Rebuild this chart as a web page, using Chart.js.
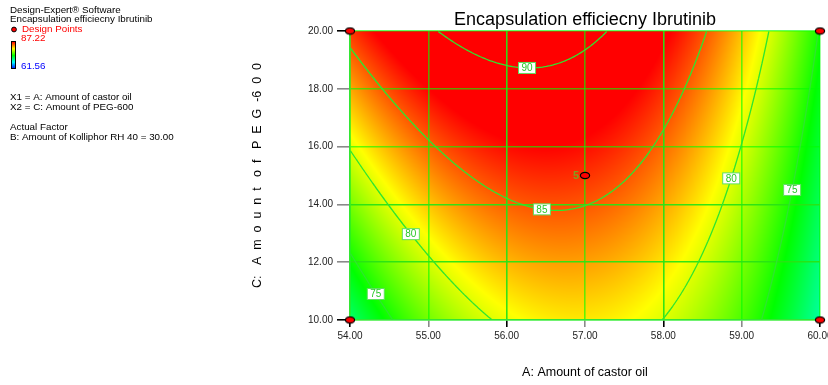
<!DOCTYPE html>
<html>
<head>
<meta charset="utf-8">
<script src="https://cdn.jsdelivr.net/npm/chart.js@4.4.0/dist/chart.umd.min.js"></script>
<style>
  html, body { margin: 0; padding: 0; background: #fff; }
</style>
</head>
<body>
<canvas id="contour" width="828" height="385"></canvas>
<script>
// response at the tick crossings
const castorOil = [54, 55, 56, 57, 58, 59, 60];
const peg600 = [10, 12, 14, 16, 18, 20];
// one row per peg600 value, one column per castorOil value
const efficiency = [
  [71.72, 77.21, 80.42, 81.33, 79.96, 76.29, 70.34],
  [74.54, 79.71, 82.60, 83.19, 81.50, 77.51, 71.24],
  [77.36, 82.21, 84.77, 85.04, 83.03, 78.73, 72.14],
  [80.17, 84.70, 86.94, 86.90, 84.56, 79.94, 73.03],
  [82.99, 87.20, 89.12, 88.75, 86.10, 81.16, 73.93],
  [85.80, 89.69, 91.30, 90.61, 87.64, 82.37, 74.82]
];
const contourLevels = [75, 80, 85, 90];
const colorLow = 61.56;
const colorHigh = 87.22;

const designA = [54, 54, 60, 60, 57];
const designC = [10, 20, 20, 10, 15];
const designReps = [1, 1, 1, 1, 5];

// where each contour label sits (one coordinate fixed, the other searched)
const contourLabels = [
  { level: 90, fixA: 56.26, range: [17, 20] },
  { level: 85, fixA: 56.45, range: [12, 16] },
  { level: 80, fixC: 12.97, range: [54, 56.5] },
  { level: 80, fixC: 14.9, range: [57.5, 60] },
  { level: 75, fixC: 10.9, range: [54, 56] },
  { level: 75, fixC: 14.5, range: [58, 60] }
];

const FONT = '"Liberation Sans", Arial, sans-serif';
Chart.defaults.font.family = FONT;

function gridVal(i, j) {
  const nx = castorOil.length, ny = peg600.length;
  if (i < 0) return 3 * gridVal(0, j) - 3 * gridVal(1, j) + gridVal(2, j);
  if (i >= nx) return 3 * gridVal(nx - 1, j) - 3 * gridVal(nx - 2, j) + gridVal(nx - 3, j);
  if (j < 0) return 3 * gridVal(i, 0) - 3 * gridVal(i, 1) + gridVal(i, 2);
  if (j >= ny) return 3 * gridVal(i, ny - 1) - 3 * gridVal(i, ny - 2) + gridVal(i, ny - 3);
  return efficiency[j][i];
}

function cr(p0, p1, p2, p3, t) {
  return p1 + 0.5 * t * (p2 - p0 + t * (2 * p0 - 5 * p1 + 4 * p2 - p3 + t * (3 * (p1 - p2) + p3 - p0)));
}

function response(a, c) {
  const nx = castorOil.length, ny = peg600.length;
  const gx = (a - castorOil[0]) / (castorOil[nx - 1] - castorOil[0]) * (nx - 1);
  const gy = (c - peg600[0]) / (peg600[ny - 1] - peg600[0]) * (ny - 1);
  const i = Math.min(Math.max(Math.floor(gx), 0), nx - 2);
  const j = Math.min(Math.max(Math.floor(gy), 0), ny - 2);
  const tx = gx - i, ty = gy - j;
  const rows = [];
  for (let dj = -1; dj <= 2; dj++) {
    rows.push(cr(gridVal(i - 1, j + dj), gridVal(i, j + dj), gridVal(i + 1, j + dj), gridVal(i + 2, j + dj), tx));
  }
  return cr(rows[0], rows[1], rows[2], rows[3], ty);
}

const stops = [[0, 0, 255], [0, 255, 255], [0, 255, 0], [255, 255, 0], [255, 0, 0]];
function colorFor(v) {
  let t = (v - colorLow) / (colorHigh - colorLow);
  t = Math.max(0, Math.min(1, t));
  const s = t * 4;
  const k = Math.min(Math.floor(s), 3);
  const f = s - k;
  const a = stops[k], b = stops[k + 1];
  return [a[0] + (b[0] - a[0]) * f, a[1] + (b[1] - a[1]) * f, a[2] + (b[2] - a[2]) * f];
}

let field = null;

const surfacePlugin = {
  id: 'surface',
  beforeDraw(chart) {
    const ctx = chart.ctx;
    const { left, top, right, bottom } = chart.chartArea;
    const xs = chart.scales.x, ys = chart.scales.y;
    const w = Math.round(right - left), h = Math.round(bottom - top);
    const off = document.createElement('canvas');
    off.width = w; off.height = h;
    const octx = off.getContext('2d');
    const img = octx.createImageData(w, h);
    field = { w, h, left, top, v: new Float32Array(w * h) };
    for (let py = 0; py < h; py++) {
      const c = ys.getValueForPixel(top + py + 0.5);
      for (let px = 0; px < w; px++) {
        const a = xs.getValueForPixel(left + px + 0.5);
        const v = response(a, c);
        field.v[py * w + px] = v;
        const col = colorFor(v);
        const k = (py * w + px) * 4;
        img.data[k] = col[0]; img.data[k + 1] = col[1]; img.data[k + 2] = col[2]; img.data[k + 3] = 255;
      }
    }
    octx.putImageData(img, 0, 0);
    ctx.drawImage(off, left, top);
  },
  beforeDatasetsDraw(chart) {
    const ctx = chart.ctx;
    const xs = chart.scales.x, ys = chart.scales.y;
    const { w, h, left, top, v } = field;
    const s = 2;
    const F = (x, y) => v[Math.min(y, h - 1) * w + Math.min(x, w - 1)];
    ctx.save();
    ctx.beginPath();
    ctx.rect(chart.chartArea.left, chart.chartArea.top, w, h);
    ctx.clip();
    ctx.strokeStyle = '#2ee62e';
    ctx.lineWidth = 1.3;
    contourLevels.forEach(level => {
      ctx.beginPath();
      for (let y = 0; y < h - 1; y += s) {
        for (let x = 0; x < w - 1; x += s) {
          const x2 = Math.min(x + s, w - 1), y2 = Math.min(y + s, h - 1);
          const c = [[x, y, F(x, y)], [x2, y, F(x2, y)], [x2, y2, F(x2, y2)], [x, y2, F(x, y2)]];
          const pts = [];
          for (let e = 0; e < 4; e++) {
            const p = c[e], q = c[(e + 1) % 4];
            if ((p[2] - level) * (q[2] - level) < 0) {
              const t = (level - p[2]) / (q[2] - p[2]);
              pts.push([p[0] + (q[0] - p[0]) * t, p[1] + (q[1] - p[1]) * t]);
            }
          }
          for (let k = 0; k + 1 < pts.length; k += 2) {
            ctx.moveTo(left + pts[k][0] + 0.5, top + pts[k][1] + 0.5);
            ctx.lineTo(left + pts[k + 1][0] + 0.5, top + pts[k + 1][1] + 0.5);
          }
        }
      }
      ctx.stroke();
    });
    ctx.restore();

    // contour labels
    ctx.save();
    ctx.font = '10px ' + FONT;
    ctx.textAlign = 'center';
    ctx.textBaseline = 'middle';
    contourLabels.forEach(lab => {
      let lo = lab.range[0], hi = lab.range[1];
      const f = u => (lab.fixA !== undefined ? response(lab.fixA, u) : response(u, lab.fixC)) - lab.level;
      const flo = f(lo);
      for (let it = 0; it < 40; it++) {
        const mid = (lo + hi) / 2;
        if (f(mid) * flo > 0) lo = mid; else hi = mid;
      }
      const u = (lo + hi) / 2;
      const a = lab.fixA !== undefined ? lab.fixA : u;
      const c = lab.fixA !== undefined ? u : lab.fixC;
      const px = xs.getPixelForValue(a), py = ys.getPixelForValue(c);
      ctx.fillStyle = '#ffffff';
      ctx.fillRect(px - 8.5, py - 5.5, 17, 11);
      ctx.strokeStyle = '#5fe05f';
      ctx.lineWidth = 1;
      ctx.strokeRect(px - 8.5, py - 5.5, 17, 11);
      ctx.fillStyle = '#28c828';
      ctx.fillText(String(lab.level), px, py + 0.5);
    });
    ctx.restore();
  },
  afterDatasetsDraw(chart) {
    const ctx = chart.ctx;
    const xs = chart.scales.x, ys = chart.scales.y;
    ctx.save();
    ctx.font = 'bold 11px ' + FONT;
    ctx.fillStyle = '#7fa020';
    ctx.textAlign = 'right';
    ctx.textBaseline = 'middle';
    designReps.forEach((n, i) => {
      if (n > 1) ctx.fillText(String(n), xs.getPixelForValue(designA[i]) - 6, ys.getPixelForValue(designC[i]));
    });
    ctx.restore();

    // side notes
    ctx.save();
    ctx.font = '9.8px ' + FONT;
    ctx.textAlign = 'left';
    ctx.textBaseline = 'middle';
    ctx.fillStyle = '#000';
    ctx.fillText('Design-Expert\u00AE Software', 10, 10);
    ctx.fillText('Encapsulation efficiecny Ibrutinib', 10, 19.5);
    ctx.fillStyle = '#ff0000';
    ctx.fillText('Design Points', 22, 29.5);
    ctx.beginPath();
    ctx.arc(14, 29.5, 2.4, 0, Math.PI * 2);
    ctx.fill();
    ctx.strokeStyle = '#000';
    ctx.lineWidth = 1;
    ctx.stroke();
    ctx.fillText(colorHigh.toFixed(2), 21, 38.5);
    ctx.fillStyle = '#0000ff';
    ctx.fillText(colorLow.toFixed(2), 21, 66.5);
    ctx.fillStyle = '#000';
    ctx.fillText('X1 = A: Amount of castor oil', 10, 97);
    ctx.fillText('X2 = C: Amount of PEG-600', 10, 107);
    ctx.fillText('Actual Factor', 10, 127);
    ctx.fillText('B: Amount of Kolliphor RH 40 = 30.00', 10, 137);
    const g = ctx.createLinearGradient(0, 42, 0, 69);
    for (let k = 0; k < stops.length; k++) {
      const st = stops[stops.length - 1 - k];
      g.addColorStop(k / 4, 'rgb(' + st.join(',') + ')');
    }
    ctx.fillStyle = g;
    ctx.fillRect(11.5, 41.5, 4, 27);
    ctx.strokeStyle = '#000';
    ctx.strokeRect(11.5, 41.5, 4, 27);
    ctx.restore();
  }
};

function pointImage() {
  const c = document.createElement('canvas');
  c.width = 12; c.height = 9;
  const g = c.getContext('2d');
  g.beginPath();
  g.ellipse(6, 4.5, 4.6, 3.1, 0, 0, Math.PI * 2);
  g.fillStyle = '#ff0000';
  g.fill();
  g.lineWidth = 1.2;
  g.strokeStyle = '#000';
  g.stroke();
  return c;
}

const olive = 'rgba(0,255,0,0.62)';
const bright = 'rgba(40,228,20,0.95)';

new Chart(document.getElementById('contour'), {
  type: 'scatter',
  data: {
    datasets: [{
      label: 'Design Points',
      data: designA.map((a, i) => ({ x: a, y: designC[i] })),
      pointStyle: pointImage(),
      clip: false
    }]
  },
  options: {
    responsive: false,
    animation: false,
    devicePixelRatio: 1,
    layout: { padding: { left: 246, right: 8, top: 0, bottom: 1 } },
    plugins: {
      legend: { display: false },
      tooltip: { enabled: false },
      title: {
        display: true,
        fullSize: false,
        text: 'Encapsulation efficiecny Ibrutinib',
        color: '#000',
        font: { size: 18, weight: 'normal' },
        padding: { top: 9, bottom: 0.4 }
      }
    },
    scales: {
      x: {
        type: 'linear',
        min: 54,
        max: 60,
        ticks: {
          stepSize: 1,
          color: '#222',
          font: { size: 10 },
          padding: 3,
          maxRotation: 0,
          callback: v => v.toFixed(2)
        },
        grid: {
          color: c => (c.tick && (c.tick.value === 56 || c.tick.value === 58)) ? bright : olive,
          lineWidth: 1.6,
          tickLength: 7,
          tickWidth: 1.6,
          tickColor: c => (c.tick && c.tick.value % 2 === 0) ? '#000' : '#8a8a8a'
        },
        border: { color: '#33e633', width: 1.6 },
        title: {
          display: true,
          text: 'A: Amount of castor oil',
          color: '#000',
          font: { size: 12.5 },
          padding: { top: 4, bottom: 4 }
        },
        afterFit: s => { s.height = 64; s.paddingLeft = 0; s.paddingRight = 0; }
      },
      y: {
        type: 'linear',
        min: 10,
        max: 20,
        ticks: {
          stepSize: 2,
          color: '#222',
          font: { size: 10 },
          padding: 4,
          callback: v => v.toFixed(2)
        },
        grid: {
          color: c => (c.tick && (c.tick.value === 12 || c.tick.value === 14)) ? bright : olive,
          lineWidth: 1.6,
          tickLength: 13,
          tickWidth: 1.6,
          tickColor: c => (c.tick && (c.tick.value === 10 || c.tick.value === 20)) ? '#000' : '#8a8a8a'
        },
        border: { color: '#33e633', width: 1.6 },
        title: {
          display: true,
          text: 'C:   A  m  o  u  n  t   o  f   P  E  G  -6  0  0',
          color: '#000',
          font: { size: 12.5 },
          padding: { top: 4, bottom: 4 }
        },
        afterFit: s => { s.width = 104; s.paddingTop = 0; s.paddingBottom = 0; }
      }
    }
  },
  plugins: [surfacePlugin]
});
</script>
</body>
</html>
